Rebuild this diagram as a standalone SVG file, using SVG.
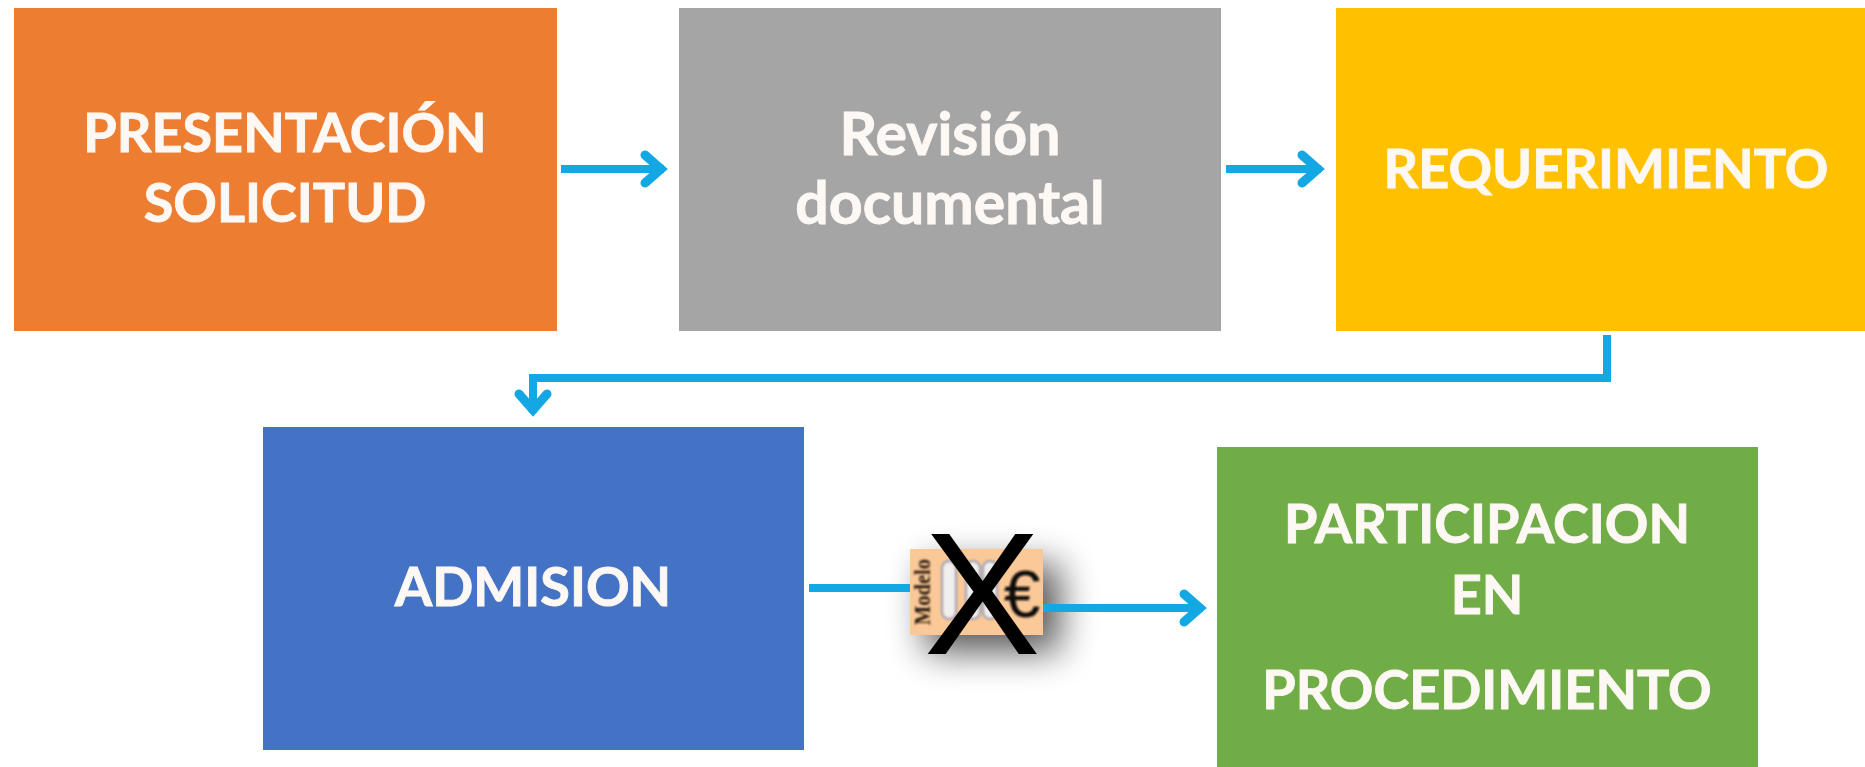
<svg xmlns="http://www.w3.org/2000/svg" width="1865" height="767" viewBox="0 0 1865 767">
<style>
.lbl{font-family:"Lato","Open Sans","Liberation Sans",sans-serif;font-weight:700;font-size:54px;fill:#fdf8f4;stroke:#fdf8f4;stroke-width:0.9;text-anchor:middle;filter:url(#soft)}
.low{font-size:59px}
.con{fill:none;stroke:#13a8e4;stroke-width:8;marker-end:url(#chev)}
.plain{fill:none;stroke:#13a8e4;stroke-width:8}
.clip{fill:#f1eeee;stroke:#a9a6b2;stroke-width:2.5}
</style>
<defs>
<filter id="soft" x="-5%" y="-10%" width="110%" height="120%"><feGaussianBlur stdDeviation="0.5"/></filter>
<filter id="shadow" x="-60%" y="-60%" width="220%" height="220%"><feGaussianBlur stdDeviation="18"/></filter>
<filter id="fuzz" x="-10%" y="-10%" width="120%" height="120%"><feGaussianBlur stdDeviation="1"/></filter>
<marker id="chev" markerUnits="userSpaceOnUse" markerWidth="50" markerHeight="50" refX="34" refY="25" orient="auto" overflow="visible">
<path d="M15 11 L31 25 L15 39" fill="none" stroke="#13a8e4" stroke-width="9" stroke-linecap="round" stroke-linejoin="miter"/>
</marker>
</defs>
<rect width="1865" height="767" fill="#fff"/>
<g id="node-presentacion">
<rect x="14" y="8" width="543" height="323" fill="#ed7d31"/>
<text class="lbl" x="285" y="152">PRESENTACIÓN</text>
<text class="lbl" x="285" y="222">SOLICITUD</text>
</g>
<g id="node-revision">
<rect x="679" y="8" width="542" height="323" fill="#a5a5a5"/>
<text class="lbl low" x="950" y="155">Revisión</text>
<text class="lbl low" x="950" y="224">documental</text>
</g>
<g id="node-requerimiento">
<rect x="1336" y="8" width="529" height="323" fill="#ffc000"/>
<text class="lbl" x="1606" y="188">REQUERIMIENTO</text>
</g>
<g id="node-admision">
<rect x="263" y="427" width="541" height="323" fill="#4472c4"/>
<text class="lbl" x="533" y="606">ADMISION</text>
</g>
<g id="node-participacion">
<rect x="1217" y="447" width="541" height="320" fill="#70ad47"/>
<text class="lbl" x="1487" y="543">PARTICIPACION</text>
<text class="lbl" x="1487" y="614">EN</text>
<text class="lbl" x="1487" y="709">PROCEDIMIENTO</text>
</g>
<g id="modelo-shadow">
<rect x="925" y="564" width="135" height="88" fill="#000" opacity="0.65" filter="url(#shadow)"/>
</g>
<g id="connectors">
<path class="con" d="M561 169 H664"/>
<path class="con" d="M1226 169 H1321"/>
<path class="con" d="M1607 335 V378 H533 V413"/>
<path class="plain" d="M809 588 H912"/>
<path class="con" d="M1043 608 H1203"/>
</g>
<g id="node-modelo">
<rect x="910" y="549" width="133" height="86" fill="#fbc998"/>
<g filter="url(#fuzz)">
<text transform="translate(930,625) rotate(-90)" font-family="Liberation Serif, serif" font-weight="700" font-size="24" fill="#2a1c10" textLength="66" lengthAdjust="spacingAndGlyphs">Modelo</text>
<rect class="clip" x="942" y="561" width="14" height="58" rx="7"/>
<rect class="clip" x="966" y="561" width="14" height="58" rx="7"/>
<rect class="clip" x="983" y="561" width="14" height="58" rx="7"/>
<text x="1022" y="617" font-family="Liberation Sans, sans-serif" font-size="66" fill="#111" text-anchor="middle">€</text>
</g>
<text x="982" y="654" font-family="Liberation Sans, sans-serif" font-size="175" fill="#000" text-anchor="middle">X</text>
</g>
</svg>
